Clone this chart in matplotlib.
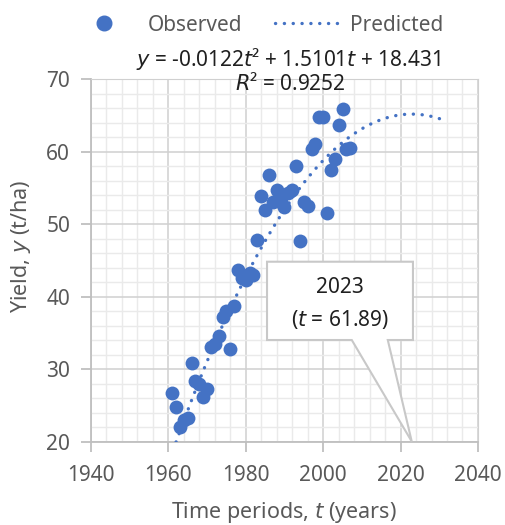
import numpy as np
import matplotlib.pyplot as plt
from matplotlib.patches import Polygon
from matplotlib.lines import Line2D
from matplotlib.ticker import MultipleLocator

plt.rcParams['font.family'] = ['Noto Sans', 'DejaVu Sans']

years = np.arange(1961, 2008)
yields = [26.7, 24.8, 22.0, 23.0, 23.3, 30.8, 28.3, 28.0, 26.2, 27.2,
          33.0, 33.5, 34.5, 37.2, 38.0, 32.7, 38.7, 43.7, 42.6, 42.3,
          43.3, 43.0, 47.8, 53.8, 52.0, 56.8, 53.0, 54.7, 53.0, 52.3,
          54.3, 54.7, 58.0, 47.6, 53.0, 52.5, 60.3, 61.0, 64.8, 64.8,
          51.5, 57.5, 59.0, 63.6, 65.9, 60.4, 60.5]

# quadratic trend from the chart
a, b, c = -0.0122, 1.5101, 18.431
t_pred = np.linspace(1, 70, 200)
y_pred = a * t_pred**2 + b * t_pred + c
peak_t = 61.89
peak_year = 1961 + peak_t

blue = '#4472C4'
grey = '#595959'
dots = (0, (0.05, 2.6))

fig = plt.figure(figsize=(5.05, 5.25), dpi=100)
ax = fig.add_axes([0.180, 0.159, 0.7665, 0.6905])

ax.scatter(years, yields, s=100, color=blue, zorder=3, linewidths=0)
ax.plot(1961 + t_pred, y_pred, color=blue, lw=2.4, linestyle=dots,
        dash_capstyle='round', zorder=3)

ax.set_xlim(1940, 2040)
ax.set_ylim(20, 70)
ax.xaxis.set_major_locator(MultipleLocator(20))
ax.xaxis.set_minor_locator(MultipleLocator(4))
ax.yaxis.set_major_locator(MultipleLocator(10))
ax.yaxis.set_minor_locator(MultipleLocator(2))
ax.grid(which='major', color='#D0D0D0', lw=1.1, zorder=1)
ax.grid(which='minor', color='#EAEAEA', lw=1.0, zorder=0)
ax.set_axisbelow(True)

for s in ['top', 'right']:
    ax.spines[s].set_color('#D0D0D0')
for s in ['left', 'bottom']:
    ax.spines[s].set_color('#BFBFBF')
    ax.spines[s].set_linewidth(1.3)
ax.tick_params(which='major', direction='out', length=7, color='#BFBFBF',
               labelsize=15, labelcolor=grey, width=1.3)
ax.tick_params(axis='x', which='major', pad=10)
ax.tick_params(axis='y', which='major', pad=8)
ax.tick_params(which='minor', length=0)

ax.set_xlabel('Time periods, $t$ (years)', fontsize=15.5, color=grey)
ax.set_ylabel('Yield, $y$ (t/ha)', fontsize=15.5, color=grey)
ax.xaxis.set_label_coords(0.499, -0.16)
ax.yaxis.set_label_coords(-0.15, 0.54)

# equation and R²
ax.text(0.51, 1.055, '$y$ = -0.0122$t$² + 1.5101$t$ + 18.431', transform=ax.transAxes,
        ha='center', va='center', fontsize=15, color='#202020')
ax.text(0.515, 0.985, '$R$² = 0.9252', transform=ax.transAxes,
        ha='center', va='center', fontsize=15, color='#202020')

# callout
box = Polygon([(1985.5, 44.8), (2023.2, 44.8), (2023.2, 34.0), (2016.7, 34.0),
               (peak_year, 20.0), (2007.4, 34.0), (1985.5, 34.0)],
              closed=True, facecolor='white', edgecolor='#C8C8C8', lw=1.5,
              zorder=4, clip_on=False)
ax.add_patch(box)
ax.text(2004.3, 41.2, '%d' % round(peak_year), ha='center', va='center',
        fontsize=15, color='#202020', zorder=5)
ax.text(2004.3, 36.8, '($t$ = %.2f)' % peak_t, ha='center', va='center',
        fontsize=15, color='#202020', zorder=5)

# legend
handles = [Line2D([], [], marker='o', ls='none', color=blue, markersize=10.5),
           Line2D([], [], color=blue, lw=2.4, linestyle=dots,
                  dash_capstyle='round')]
leg = fig.legend(handles, ['Observed', 'Predicted'], loc='center',
                 bbox_to_anchor=(0.511, 0.952), ncol=2, frameon=False,
                 fontsize=15, handlelength=3.0, columnspacing=1.6, handletextpad=0.6)
for txt in leg.get_texts():
    txt.set_color(grey)

fig.savefig('out.png', dpi=100)
